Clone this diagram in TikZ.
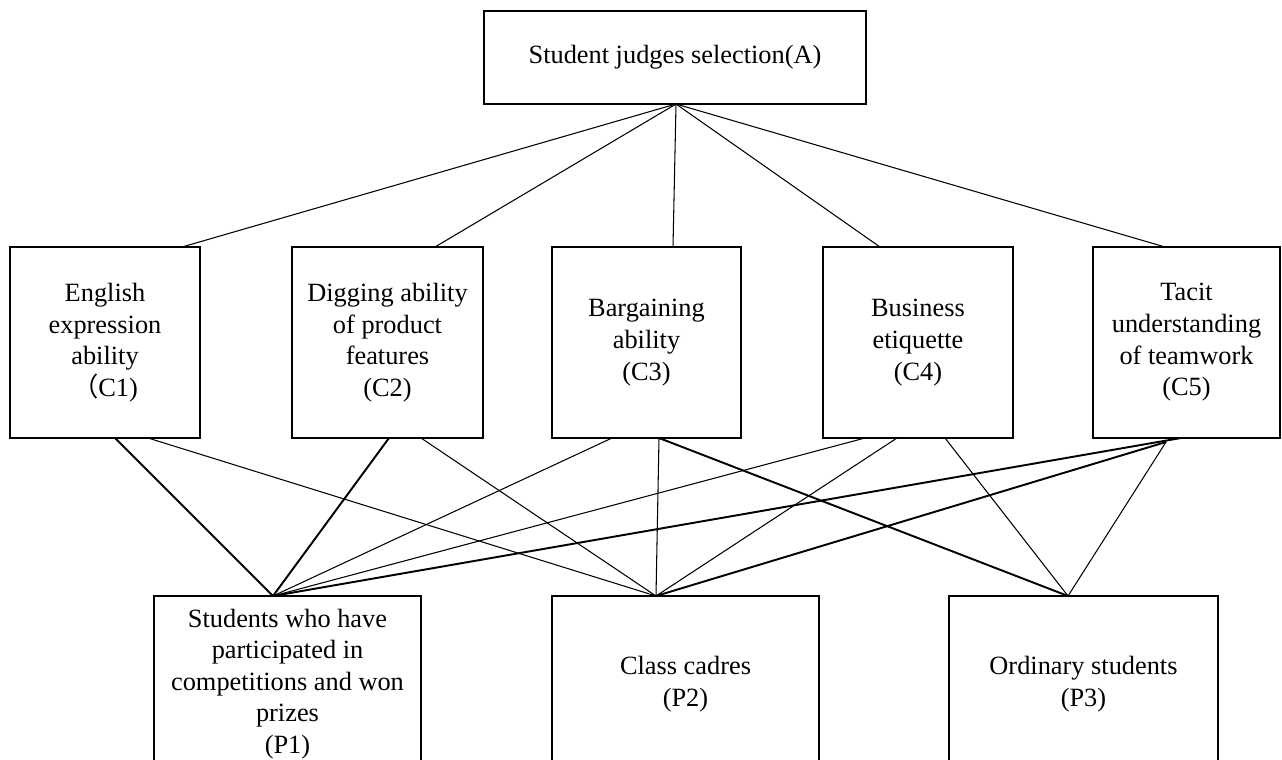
\documentclass[tikz,border=0pt]{standalone}
\usepackage{fontspec}
\setmainfont{Liberation Serif}
\newfontfamily\cjk{Noto Sans CJK SC}
\begin{document}
\begin{tikzpicture}[x=0.02cm,y=-0.02cm,
  box/.style={draw,line width=0.8pt,inner sep=0pt,outer sep=0pt,align=center,
    font=\fontsize{15pt}{18pt}\selectfont},
  cbox/.style={box,minimum height=3.82cm},
  pbox/.style={box,minimum height=3.52cm},
  lnthin/.style={line width=0.6pt},
  lnthick/.style={line width=1.1pt}]
\clip (0,0) rectangle (1282,760);
\fill[white] (0,0) rectangle (1282,760);
% top
\node[box,minimum width=7.64cm,minimum height=1.86cm] (A) at (675,57.5) {Student judges selection(A)};
% criteria
\node[cbox,minimum width=3.80cm] (C1) at (105,342.5) {English\\expression\\ability\\{\cjk （}C1)};
\node[cbox,minimum width=3.82cm] (C2) at (387.5,342.5) {Digging ability\\of product\\features\\(C2)};
\node[cbox,minimum width=3.78cm] (C3) at (646.5,342.5) {Bargaining\\ability\\(C3)};
\node[cbox,minimum width=3.80cm] (C4) at (918,342.5) {Business\\etiquette\\(C4)};
\node[cbox,minimum width=3.74cm] (C5) at (1186.5,342.5) {Tacit\\understanding\\of teamwork\\(C5)};
% alternatives
\node[pbox,minimum width=5.34cm] (P1) at (287.5,684) {Students who have\\participated in\\competitions and won\\prizes\\(P1)};
\node[pbox,minimum width=5.34cm] (P2) at (685.5,684) {Class cadres\\(P2)};
\node[pbox,minimum width=5.38cm] (P3) at (1083.5,684) {Ordinary students\\(P3)};
% attachment points
\coordinate (a) at (676,104);
\coordinate (c1t) at (182,247);
\coordinate (c2t) at (435,247);
\coordinate (c3t) at (673,247);
\coordinate (c4t) at (880,247);
\coordinate (c5t) at (1165,247);
\coordinate (c1a) at (115,438);
\coordinate (c1b) at (148,438);
\coordinate (c2a) at (389,438);
\coordinate (c2b) at (421,438);
\coordinate (c3a) at (612,438);
\coordinate (c3b) at (659,438);
\coordinate (c4a) at (865,438);
\coordinate (c4b) at (897,438);
\coordinate (c4c) at (945,438);
\coordinate (c5a) at (1181,438);
\coordinate (c5b) at (1166,442);
\coordinate (p1) at (273,596);
\coordinate (p2) at (656,596);
\coordinate (p3) at (1068,596);
% A to criteria
\draw[lnthin] (a) -- (c1t);
\draw[lnthin] (a) -- (c2t);
\draw[lnthin] (a) -- (c3t);
\draw[lnthin] (a) -- (c4t);
\draw[lnthin] (a) -- (c5t);
% criteria to alternatives
\draw[lnthick] (c1a) -- (p1);
\draw[lnthin] (c1b) -- (p2);
\draw[lnthick] (c2a) -- (p1);
\draw[lnthin] (c2b) -- (p2);
\draw[lnthin] (c3a) -- (p1);
\draw[lnthin] (c3b) -- (p2);
\draw[lnthick] (c3b) -- (p3);
\draw[lnthin] (c4a) -- (p1);
\draw[lnthin] (c4b) -- (p2);
\draw[lnthin] (c4c) -- (p3);
\draw[lnthick] (c5a) -- (p1);
\draw[lnthick] (c5b) -- (p2);
\draw[lnthin] (c5b) -- (p3);
\end{tikzpicture}
\end{document}
